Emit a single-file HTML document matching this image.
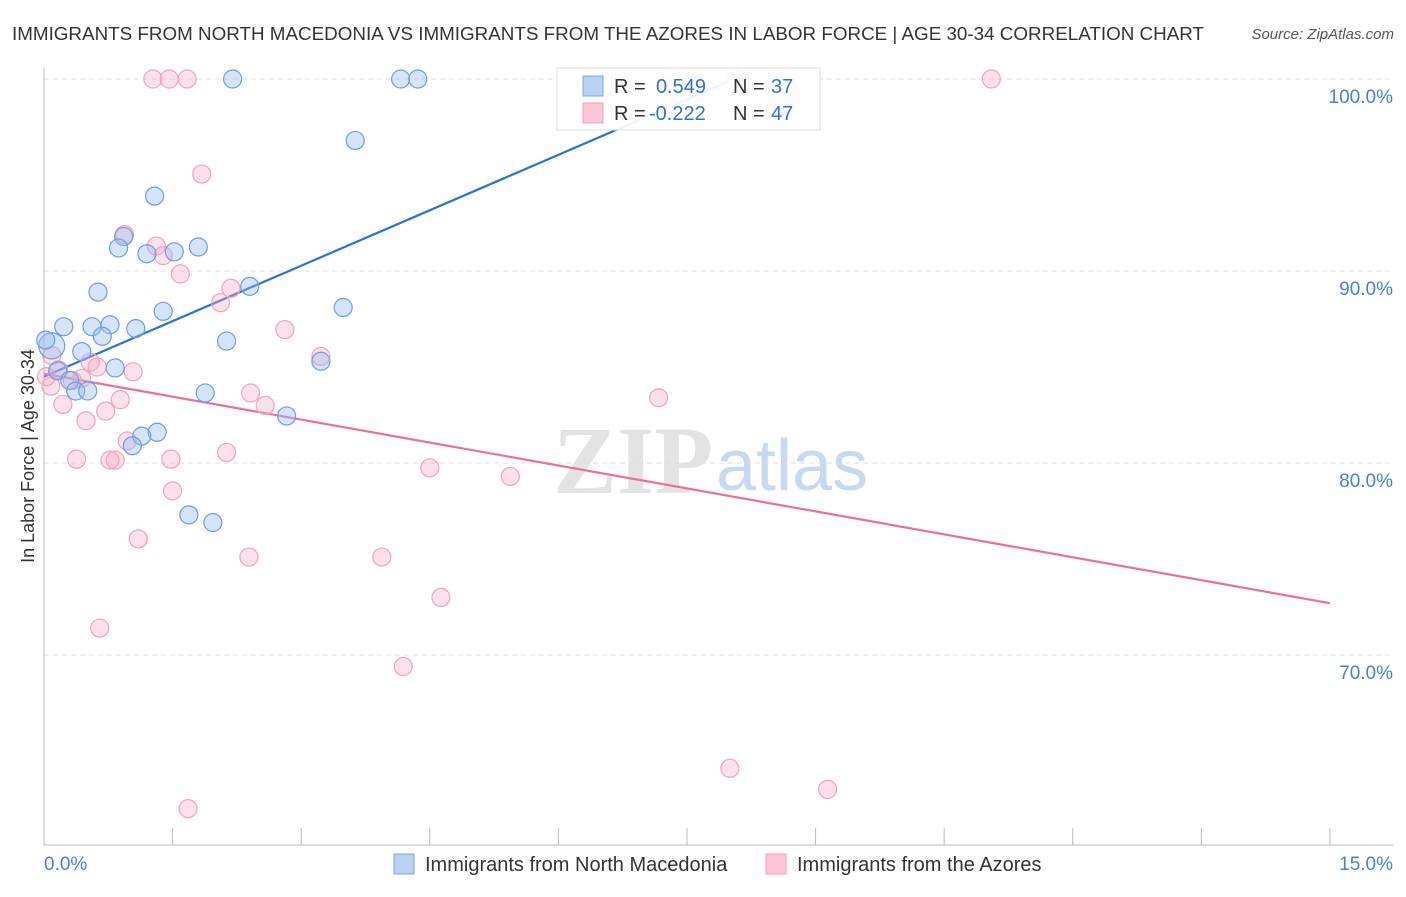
<!DOCTYPE html>
<html><head><meta charset="utf-8"><style>
body{margin:0;background:#fff;width:1406px;height:892px;overflow:hidden;font-family:"Liberation Sans",sans-serif}
</style></head><body>
<svg width="1406" height="892" xmlns="http://www.w3.org/2000/svg">
<text x="12" y="40" font-size="18" fill="#333" textLength="1192" lengthAdjust="spacingAndGlyphs">IMMIGRANTS FROM NORTH MACEDONIA VS IMMIGRANTS FROM THE AZORES IN LABOR FORCE | AGE 30-34 CORRELATION CHART</text>
<text x="1394" y="39" font-size="15" fill="#555" text-anchor="end" font-style="italic">Source: ZipAtlas.com</text>
<g>
<text x="553" y="493" font-size="96" font-family="Liberation Serif,serif" font-weight="bold" fill="#ddd" opacity="0.8">ZIP</text>
<text x="716" y="490" font-size="72" fill="#b9d0ec" opacity="0.8">atlas</text>
</g>
<g id="grid"></g>
<line x1="44" y1="68" x2="44" y2="845" stroke="#bbb"/>
<line x1="44" y1="845" x2="1393" y2="845" stroke="#bbb"/>
<text transform="translate(34,456) rotate(-90)" font-size="18" fill="#333" text-anchor="middle">In Labor Force | Age 30-34</text>
<text x="44" y="870" font-size="19" fill="#4a7fd4">0.0%</text>
<text x="1393" y="870" font-size="19" fill="#4a7fd4" text-anchor="end">15.0%</text>
<g id="lines"></g>
<g id="pts"></g>
<g>
<rect x="557" y="68" width="263" height="62" fill="#fff" fill-opacity="0.92" stroke="#ddd"/>
<rect x="583" y="76" width="20" height="20" fill="#b9d2f4" stroke="#7aa6e6"/>
<rect x="583" y="103" width="20" height="20" fill="#fbc6d6" stroke="#f0a0b8"/>
<text x="614" y="93" font-size="20" fill="#333">R =</text>
<text x="656" y="93" font-size="20" fill="#2f6fd6">0.549</text>
<text x="733" y="93" font-size="20" fill="#333">N =</text>
<text x="771" y="93" font-size="20" fill="#2f6fd6">37</text>
<text x="614" y="120" font-size="20" fill="#333">R =</text>
<text x="649" y="120" font-size="20" fill="#2f6fd6">-0.222</text>
<text x="733" y="120" font-size="20" fill="#333">N =</text>
<text x="771" y="120" font-size="20" fill="#2f6fd6">47</text>
</g>
<g>
<rect x="394" y="854" width="20" height="20" fill="#b9d2f4" stroke="#7aa6e6"/>
<text x="425" y="871" font-size="20" fill="#333">Immigrants from North Macedonia</text>
<rect x="766" y="854" width="20" height="20" fill="#fbc6d6" stroke="#f0a0b8"/>
<text x="797" y="871" font-size="20" fill="#333">Immigrants from the Azores</text>
</g>
</svg>
<script>
const yTicks=[100,90,80,70];
const yTickLabels=["100.0%","90.0%","80.0%","70.0%"];
const xTicks=[0,1.5,3,4.5,6,7.5,9,10.5,12,13.5,15];
const blueX=[2.20,4.16,4.36,3.63,1.29,0.93,0.87,1.20,1.52,1.80,0.63,2.40,1.39,3.49,0.23,0.56,0.77,1.07,0.68,2.13,0.09,0.44,3.23,0.83,0.16,0.30,0.37,0.51,1.88,2.83,1.32,1.14,1.03,1.69,1.97,8.08,0.02];
const blueY=[100,100,100,96.8,93.9,91.8,91.2,90.9,91.0,91.25,88.9,89.2,87.9,88.1,87.1,87.1,87.2,87.0,86.6,86.35,86.1,85.8,85.3,84.95,84.8,84.3,83.75,83.75,83.65,82.45,81.6,81.4,80.9,77.3,76.9,100,86.4];
const pinkX=[1.27,1.46,1.67,11.05,1.84,0.94,1.31,1.39,1.59,2.18,2.06,2.81,3.23,0.54,0.62,1.04,0.17,0.08,0.44,0.22,0.89,0.72,2.41,2.58,7.17,0.49,0.97,0.38,0.77,0.83,1.48,2.13,4.50,5.44,1.50,1.10,2.39,3.94,4.63,0.65,4.19,8.00,9.14,1.68,0.09,0.03,0.33];
const pinkY=[100,100,100,100,95.05,91.9,91.3,90.8,89.85,89.1,88.35,86.95,85.55,85.25,85.0,84.75,84.85,84.0,84.4,83.05,83.3,82.7,83.65,83.0,83.4,82.2,81.15,80.2,80.15,80.15,80.2,80.55,79.75,79.3,78.55,76.05,75.1,75.1,73.0,71.4,69.4,64.1,63.0,62.0,85.6,84.5,84.3];
const blueTrend=[[0,84.5],[8.0,99.9]];
const pinkTrend=[[0,84.65],[15,72.7]];
const NS="http://www.w3.org/2000/svg";
const sx=v=>44+v*85.73, sy=v=>79+(100-v)*19.2;
function mk(tag,attrs,parent){const e=document.createElementNS(NS,tag);for(const k in attrs)e.setAttribute(k,attrs[k]);document.getElementById(parent).appendChild(e);return e;}
yTicks.forEach((t,i)=>{
 const l=mk('line',{x1:44,x2:1393,y1:sy(t),y2:sy(t),stroke:'#ddd','stroke-dasharray':'5,4'},'grid');
 
 
 const tx=mk('text',{x:1393,y:sy(t)+24,'font-size':19,fill:'#4a7fd4','text-anchor':'end'},'grid');
 tx.textContent=yTickLabels[i];
 
 
});
xTicks.forEach(t=>{
 const l=mk('line',{x1:sx(t),x2:sx(t),y1:828,y2:845,stroke:'#bbb'},'grid');
 
 
});
function pts(X,Y,fill,stroke,name,bigIdx){
 X.forEach((x,i)=>{
  const c=mk('circle',{cx:sx(x),cy:sy(Y[i]),r:i===bigIdx?13:9,fill:fill,stroke:stroke,'stroke-width':1.2},'pts');
  
  
 });
}
pts(pinkX,pinkY,'rgba(248,170,195,0.35)','#f0a3bb','pink-point',-1);
pts(blueX,blueY,'rgba(150,188,238,0.4)','#6c9ee0','blue-point',20);
const bl=mk('line',{x1:sx(blueTrend[0][0]),y1:sy(blueTrend[0][1]),x2:sx(blueTrend[1][0]),y2:sy(blueTrend[1][1]),stroke:'#2a72d8','stroke-width':2.2},'lines');


const pl=mk('line',{x1:sx(pinkTrend[0][0]),y1:sy(pinkTrend[0][1]),x2:sx(pinkTrend[1][0]),y2:sy(pinkTrend[1][1]),stroke:'#e8709a','stroke-width':2.2},'lines');


</script>
</body></html>
